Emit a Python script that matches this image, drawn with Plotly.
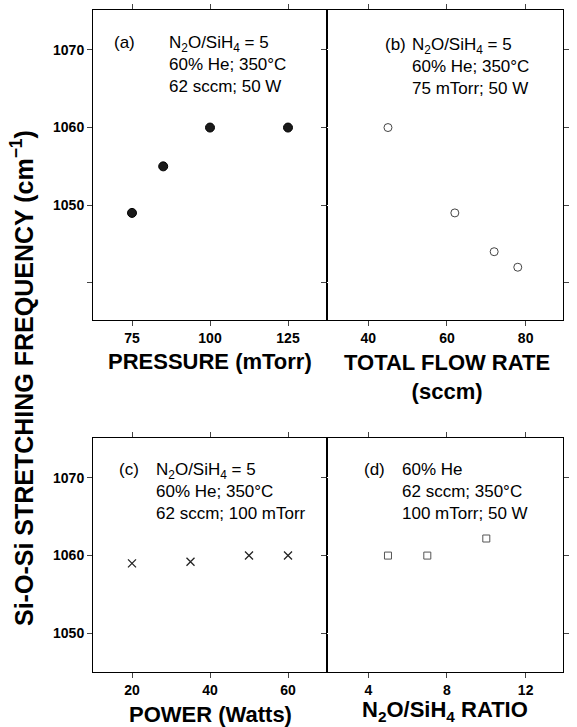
import plotly.graph_objects as go

# ---- data ----
pressure = [75, 85, 100, 125]
freq_a = [1049, 1055, 1060, 1060]

flow = [45, 62, 72, 78]
freq_b = [1060, 1049, 1044, 1042]

power = [20, 35, 50, 60]
freq_c = [1059, 1059.2, 1060, 1060]

ratio = [5, 7, 10]
freq_d = [1060, 1060, 1062.2]

W, H = 577, 727
FONT = "Liberation Sans, Arial, sans-serif"

def px(x):
    return x / W

def py(y):
    return 1 - y / H

fig = go.Figure()

fig.add_trace(go.Scatter(x=pressure, y=freq_a, mode="markers", xaxis="x", yaxis="y",
                         marker=dict(symbol="circle", size=9, color="#1a1a1a",
                                     line=dict(color="#000", width=1)), showlegend=False))
fig.add_trace(go.Scatter(x=flow, y=freq_b, mode="markers", xaxis="x2", yaxis="y2",
                         marker=dict(symbol="circle-open", size=8, color="#444",
                                     line=dict(width=1)), showlegend=False))
fig.add_trace(go.Scatter(x=power, y=freq_c, mode="markers", xaxis="x3", yaxis="y3",
                         marker=dict(symbol="x-thin-open", size=8, color="#222",
                                     line=dict(width=1.3)), showlegend=False))
fig.add_trace(go.Scatter(x=ratio, y=freq_d, mode="markers", xaxis="x4", yaxis="y4",
                         marker=dict(symbol="square-open", size=7, color="#555",
                                     line=dict(width=1)), showlegend=False))

L, M, R = 93, 327, 563
T1, B1 = 10, 320
T2, B2 = 438, 672

tickfont = dict(family=FONT, size=14, color="black", weight="bold")

def base():
    return dict(showline=True, linecolor="black", mirror="ticks",
                ticks="outside", ticklen=5, tickfont=tickfont)

def xa(dom, rng, t0, dt, anchor):
    d = base()
    d.update(domain=dom, range=rng, tick0=t0, dtick=dt, anchor=anchor)
    return d

def ya(dom, rng, anchor, show=True):
    d = base()
    d.update(domain=dom, range=rng, tick0=1040, dtick=10, anchor=anchor,
             showticklabels=show, labelalias={"1040": " "})
    return d

top_dom = [py(B1), py(T1)]
bot_dom = [py(B2), py(T2)]
left_dom = [px(L), px(M)]
right_dom = [px(M), px(R)]

fig.update_layout(
    width=W, height=H, margin=dict(l=0, r=0, t=0, b=0),
    paper_bgcolor="white", plot_bgcolor="white", showlegend=False,
    xaxis=xa(left_dom, [62.5, 137.5], 75, 25, "y"),
    yaxis=ya(top_dom, [1035.2, 1075.15], "x"),
    xaxis2=xa(right_dom, [29.5, 89.5], 40, 20, "y2"),
    yaxis2=ya(top_dom, [1035.2, 1075.15], "x2", show=False),
    xaxis3=xa(left_dom, [10, 70], 20, 20, "y3"),
    yaxis3=ya(bot_dom, [1045, 1075.15], "x3"),
    xaxis4=xa(right_dom, [1.9, 13.9], 4, 4, "y4"),
    yaxis4=ya(bot_dom, [1045, 1075.15], "x4", show=False),
)

ann_font = dict(family=FONT, size=17, color="black")
title_font = dict(family=FONT, size=22, color="black", weight="bold")

def note(x, y, text, font=ann_font, xanchor="left", yanchor="top", angle=0, align="left"):
    fig.add_annotation(x=px(x), y=py(y), xref="paper", yref="paper", text=text,
                       showarrow=False, xanchor=xanchor, yanchor=yanchor,
                       font=font, align=align, textangle=angle, borderpad=0)

# panel labels and conditions
note(113, 32, "(a)")
note(168, 32, "N<sub>2</sub>O/SiH<sub>4</sub> = 5<br>60% He; 350°C<br>62 sccm; 50 W")
note(384, 34, "(b)")
note(411, 34, "N<sub>2</sub>O/SiH<sub>4</sub> = 5<br>60% He; 350°C<br>75 mTorr; 50 W")
note(118, 459, "(c)")
note(155, 459, "N<sub>2</sub>O/SiH<sub>4</sub> = 5<br>60% He; 350°C<br>62 sccm; 100 mTorr")
note(363, 459, "(d)")
note(401, 459, "60% He<br>62 sccm; 350°C<br>100 mTorr; 50 W")

# axis titles
note(210, 361, "PRESSURE (mTorr)", font=title_font, xanchor="center", yanchor="middle")
note(447, 377, "TOTAL FLOW RATE<br>(sccm)", font=title_font, xanchor="center",
     yanchor="middle", align="center")
note(210, 714, "POWER (Watts)", font=title_font, xanchor="center", yanchor="middle")
note(445, 711, "N<sub>2</sub>O/SiH<sub>4</sub> RATIO", font=title_font, xanchor="center",
     yanchor="middle")
note(22, 378, "Si-O-Si STRETCHING FREQUENCY (cm<sup>−1</sup>)",
     font=dict(family=FONT, size=25, color="black", weight="bold"),
     xanchor="center", yanchor="middle", angle=-90)

fig.write_html("out.html")
